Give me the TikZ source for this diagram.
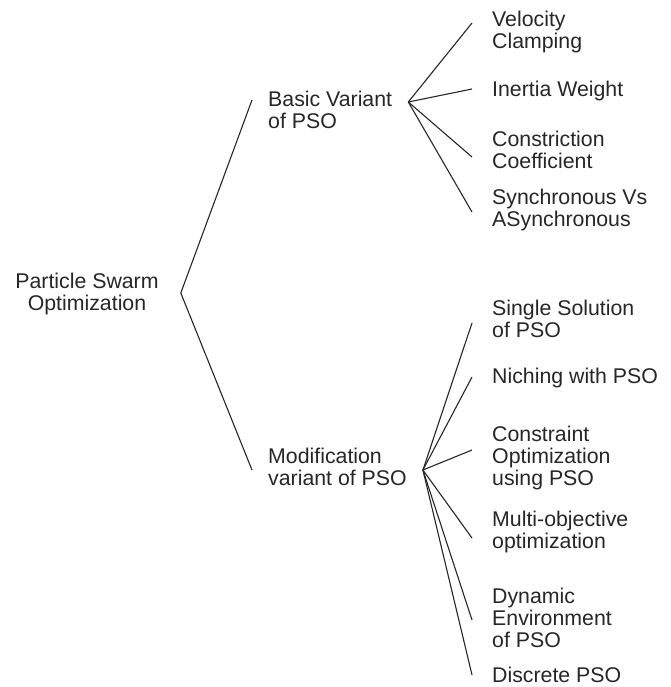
\documentclass[tikz,border=0pt]{standalone}
\usepackage{fontspec}
\setmainfont{Liberation Sans}

\begin{document}
\begin{tikzpicture}[x=1pt,y=-1pt,
  every node/.style={font=\fontsize{21.3}{22}\selectfont, text=black!85, align=left},
  variant/.style={anchor=west, inner xsep=16pt, inner ysep=0pt},
  leaf/.style={anchor=west, inner xsep=20pt, inner ysep=0pt},
  branch/.style={line width=1.1pt, draw=black!85}]
\useasboundingbox (0,0) rectangle (670,687);

\node[align=center, inner xsep=22pt, inner ysep=0pt] (pso) at (87,294) {Particle Swarm\\Optimization};

\node[variant] (basic) at (252,110) {Basic Variant\\of PSO};
\node[variant] (modif) at (252,467) {Modification\\variant of PSO};

\node[leaf] (vel) at (472,32) {Velocity\\Clamping};
\node[leaf] (inert) at (472,91) {Inertia Weight};
\node[leaf] (constr) at (472,150) {Constriction\\Coefficient};
\node[leaf] (sync) at (472,210) {Synchronous Vs\\ASynchronous};

\node[leaf] (single) at (472,319) {Single Solution\\of PSO};
\node[leaf] (niche) at (472,378) {Niching with PSO};
\node[leaf] (cons) at (472,458) {Constraint\\Optimization\\using PSO};
\node[leaf] (multi) at (472,532) {Multi-objective\\optimization};
\node[leaf] (dyn) at (472,618) {Dynamic\\Environment\\of PSO};
\node[leaf] (disc) at (472,675) {Discrete PSO};

% root
\draw [branch] ([yshift=10pt]basic.west) -- ([yshift=1pt]pso.east) -- ([yshift=-3pt]modif.west);

% basic variant
\draw [branch] ([yshift=8pt]basic.east) -- ([yshift=9pt]vel.west);
\draw [branch] ([yshift=8pt]basic.east) -- ([yshift=2pt]inert.west);
\draw [branch] ([yshift=8pt]basic.east) -- ([yshift=-7pt]constr.west);
\draw [branch] ([yshift=8pt]basic.east) -- ([yshift=-2pt]sync.west);

% modification variant
\draw [branch] ([yshift=-3pt]modif.east) -- ([yshift=-4pt]single.west);
\draw [branch] ([yshift=-3pt]modif.east) -- ([yshift=1pt]niche.west);
\draw [branch] ([yshift=-3pt]modif.east) -- ([yshift=8pt]cons.west);
\draw [branch] ([yshift=-3pt]modif.east) -- ([yshift=-6pt]multi.west);
\draw [branch] ([yshift=-3pt]modif.east) -- ([yshift=-2pt]dyn.west);
\draw [branch] ([yshift=-3pt]modif.east) -- (disc.west);
\end{tikzpicture}
\end{document}
